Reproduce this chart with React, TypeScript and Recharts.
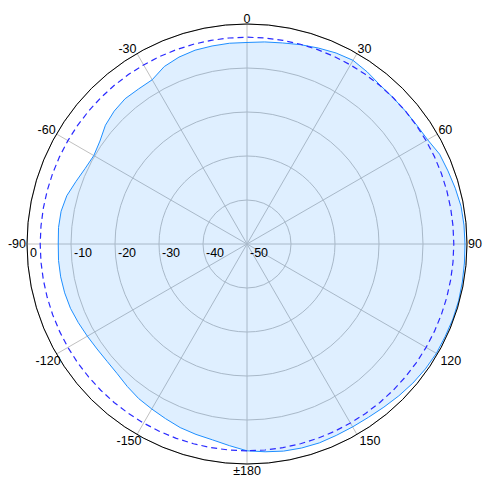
import { RadarChart, Radar, PolarGrid, PolarAngleAxis, PolarRadiusAxis } from 'recharts'

// measured gain (dB) every 5 degrees, 0 = top, clockwise positive
const angles = [
    -180, -175, -170, -165, -160, -155, -150, -145, -140, -135, -130, -125,
    -120, -115, -110, -105, -100, -95, -90, -85, -80, -75, -70, -65,
    -60, -55, -50, -45, -40, -35, -30, -25, -20, -15, -10, -5,
    0, 5, 10, 15, 20, 25, 30, 35, 40, 45, 50, 55,
    60, 65, 70, 75, 80, 85, 90, 95, 100, 105, 110, 115,
    120, 125, 130, 135, 140, 145, 150, 155, 160, 165, 170, 175,
]
const gain = [
    -3.0, -4.0, -4.8, -5.2, -5.6, -6.2, -6.7, -7.1, -7.7, -8.3, -8.5, -8.4,
    -8.1, -7.7, -7.3, -7.1, -7.0, -7.0, -7.1, -7.0, -7.1, -7.6, -8.6, -9.4,
    -9.8, -9.2, -8.0, -7.3, -6.9, -7.0, -6.9, -5.5, -4.8, -4.4, -4.3, -4.2,
    -4.2, -3.9, -3.6, -3.1, -2.6, -2.1, -1.8, -2.3, -2.9, -3.0, -3.0, -2.9,
    -2.6, -1.7, -1.4, -1.0, -0.6, -0.5, -0.45, -0.4, -0.3, -0.2, -0.2, -0.3,
    -0.3, -0.5, -0.8, -1.2, -1.6, -1.9, -2.0, -2.0, -1.9, -2.0, -2.2, -2.6,
]
// dashed reference level (dB)
const refLevel = -3
const angleTicks = [-150, -120, -90, -60, -30, 0, 30, 60, 90, 120, 150, 180]
const levelTicks = [-50, -40, -30, -20, -10, 0]

const data = angles.map((a, i) => ({ angle: a, gain: gain[i], ref: refLevel }))

const font = '"Liberation Sans", Arial, sans-serif'

function AngleTick(props: any) {
    const { x, y, payload, textAnchor } = props
    const v = payload.value
    const a = Math.abs(v)
    let dy = 0
    if (a === 90) dy = 4
    else if (a > 90) dy = 10
    let dx = 0
    if (a > 90 && a < 180) dx = v > 0 ? 2 : 5
    return (
        <text x={x} y={y} dx={dx} dy={dy} textAnchor={textAnchor} fontSize={12.5} fontFamily={font} fill="#000">
            {v === 180 ? '±180' : String(v)}
        </text>
    )
}

function LevelTick(props: any) {
    const { x, y, payload } = props
    return (
        <text x={x} y={y} dx={3} dy={13} textAnchor="start" fontSize={12.5} fontFamily={font} fill="#000">
            {payload.value}
        </text>
    )
}

export default function App() {
    return (
        <div style={{ position: 'fixed', left: 0, top: 0, background: '#fff' }}>
            <RadarChart
                width={492}
                height={479}
                data={data}
                cx={247}
                cy={244}
                innerRadius={0}
                outerRadius={220}
                startAngle={270}
                endAngle={-90}
            >
                <PolarGrid gridType="circle" stroke="#c0c0c0" />
                <PolarAngleAxis
                    dataKey="angle"
                    type="number"
                    domain={[-180, 180]}
                    ticks={angleTicks}
                    tickLine={false}
                    tickSize={1}
                    axisLineType="circle"
                    axisLine={{ stroke: '#000' }}
                    tick={<AngleTick />}
                />
                <PolarRadiusAxis
                    angle={180}
                    type="number"
                    domain={[-50, 0]}
                    ticks={levelTicks}
                    axisLine={false}
                    tick={<LevelTick />}
                />
                <Radar
                    dataKey="gain"
                    stroke="#1e8fff"
                    strokeWidth={1}
                    fill="#1e8fff"
                    fillOpacity={0.14}
                    isAnimationActive={false}
                />
                <Radar
                    dataKey="ref"
                    stroke="#2a2aff"
                    strokeWidth={1.2}
                    strokeDasharray="6 4"
                    fill="none"
                    fillOpacity={0}
                    isAnimationActive={false}
                />
            </RadarChart>
        </div>
    )
}
